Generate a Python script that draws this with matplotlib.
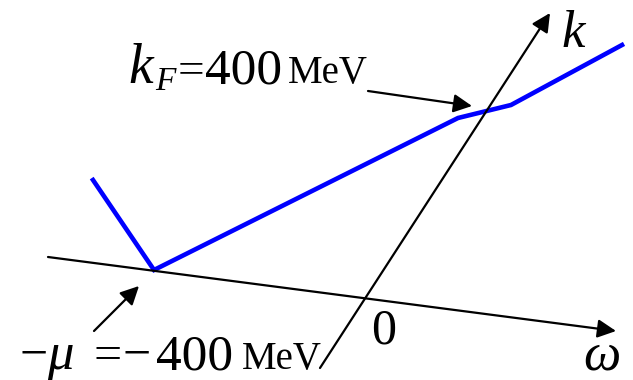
'''
Dispersion sketch: k_F line in the (omega, k) plane
'''

from matplotlib import pyplot as plt

plt.rcParams['font.family'] = 'Liberation Serif'

# axes of the sketch (start, tip)
omega_axis = [(48, 257), (616, 331)]
k_axis = [(320, 368), (550, 13)]

# blue curve vertices
curve_x = [93, 154, 458, 511, 622]
curve_y = [180, 270, 118, 105, 45]

# pointer arrows (tail, head)
kf_arrow = [(368, 91), (472, 106)]
mu_arrow = [(94, 331), (139, 286)]


def draw_arrow(ax, tail, head, width=1.6):
    ax.annotate('', xy=head, xytext=tail,
                arrowprops=dict(arrowstyle='-|>', color='black', lw=width,
                                mutation_scale=28, shrinkA=0, shrinkB=0))


def put(ax, x, y, s, size, italic=False):
    ax.text(x, y, s, fontsize=size, ha='left', va='baseline',
            fontstyle='italic' if italic else 'normal')


def plot_sketch():
    fig = plt.figure(figsize=(6.33, 3.8), dpi=100)
    ax = fig.add_axes([0, 0, 1, 1])
    ax.set_xlim(0, 633)
    ax.set_ylim(380, 0)
    ax.axis('off')

    draw_arrow(ax, omega_axis[0], omega_axis[1])
    draw_arrow(ax, k_axis[0], k_axis[1])
    ax.plot(curve_x, curve_y, color='#0000ff', lw=3.3, solid_joinstyle='miter')
    draw_arrow(ax, kf_arrow[0], kf_arrow[1])
    draw_arrow(ax, mu_arrow[0], mu_arrow[1])

    # k_F = 400 MeV
    put(ax, 128, 83, 'k', 40, italic=True)
    put(ax, 155, 90, 'F', 24, italic=True)
    put(ax, 178, 83, '=', 34)
    put(ax, 205, 83, '400', 37)
    put(ax, 288, 83, 'MeV', 28)

    # -mu = -400 MeV
    put(ax, 20, 369, '\u2212', 36)
    put(ax, 47, 369, '\u03bc', 38, italic=True)
    put(ax, 93, 369, '=', 36)
    put(ax, 123, 369, '\u2212', 36)
    put(ax, 156, 369, '400', 37)
    put(ax, 242, 369, 'MeV', 28)

    put(ax, 371, 344, '0', 36)
    put(ax, 561, 47, 'k', 38, italic=True)
    put(ax, 583, 369, '\u03c9', 38, italic=True)

    fig.savefig('out.png', dpi=100)


if __name__ == '__main__':
    plot_sketch()
